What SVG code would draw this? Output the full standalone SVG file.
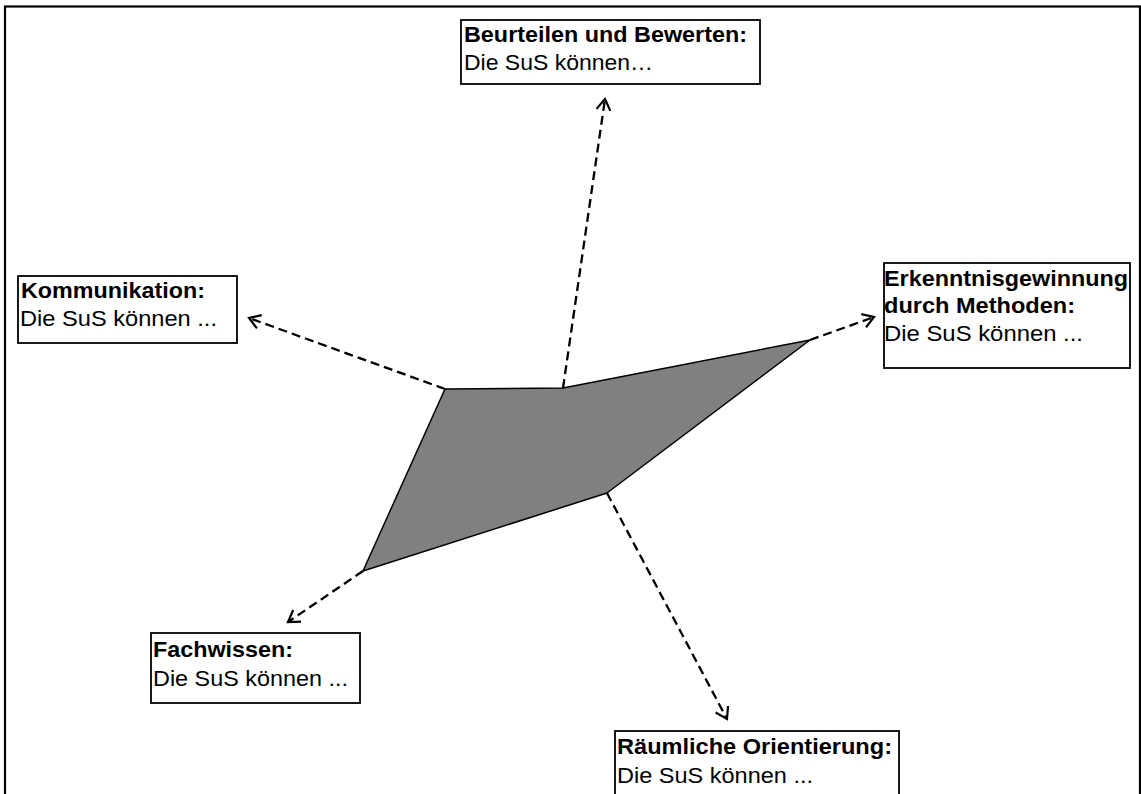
<svg xmlns="http://www.w3.org/2000/svg" width="1141" height="794" viewBox="0 0 1141 794">
<style>
.box{fill:#fff;stroke:#000;stroke-width:1.8}
.b{font-family:"Liberation Sans",Arial,sans-serif;font-weight:bold;font-size:22.5px;fill:#000}
.r{font-family:"Liberation Sans",Arial,sans-serif;font-size:22.5px;fill:#000}
.dash{fill:none;stroke:#000;stroke-width:2.3;stroke-dasharray:9 5;marker-end:url(#arr)}
</style>
<defs>
<marker id="arr" markerUnits="userSpaceOnUse" markerWidth="24" markerHeight="24" viewBox="-14 -12 16 24" refX="0" refY="0" orient="auto">
<path d="M-11,-7 L0,0 L-11,7" fill="none" stroke="#000" stroke-width="2.2"/>
</marker>
</defs>
<rect x="0" y="0" width="1141" height="794" fill="#fff"/>
<rect x="5" y="6.5" width="1135" height="800" fill="none" stroke="#000" stroke-width="2.2"/>
<g id="connectors">
<line class="dash" x1="563" y1="388" x2="605" y2="99"/>
<line class="dash" x1="445" y1="389" x2="249" y2="318"/>
<line class="dash" x1="810" y1="340" x2="874" y2="317"/>
<line class="dash" x1="363" y1="571" x2="288" y2="622"/>
<line class="dash" x1="607" y1="493" x2="727" y2="719"/>
</g>
<g id="profile">
<polygon points="445,389 563,388 810,340 607,493 363,571" fill="#808080" stroke="#000" stroke-width="1.5" stroke-linejoin="round"/>
</g>
<g id="beurteilen">
<rect class="box" x="461" y="20" width="299" height="64"/>
<text class="b" x="464" y="42" textLength="283" lengthAdjust="spacingAndGlyphs">Beurteilen und Bewerten:</text>
<text class="r" x="464" y="70" textLength="189" lengthAdjust="spacingAndGlyphs">Die SuS können…</text>
</g>
<g id="kommunikation">
<rect class="box" x="18" y="276" width="219" height="67"/>
<text class="b" x="21" y="297.5" textLength="184" lengthAdjust="spacingAndGlyphs">Kommunikation:</text>
<text class="r" x="20" y="325.5" textLength="197" lengthAdjust="spacingAndGlyphs">Die SuS können ...</text>
</g>
<g id="erkenntnis">
<rect class="box" x="884" y="263" width="246" height="105"/>
<text class="b" x="884" y="285.5" textLength="244" lengthAdjust="spacingAndGlyphs">Erkenntnisgewinnung</text>
<text class="b" x="884" y="312.5" textLength="191" lengthAdjust="spacingAndGlyphs">durch Methoden:</text>
<text class="r" x="884" y="340.5" textLength="199" lengthAdjust="spacingAndGlyphs">Die SuS können ...</text>
</g>
<g id="fachwissen">
<rect class="box" x="151" y="633" width="209" height="70"/>
<text class="b" x="153" y="656.5" textLength="140" lengthAdjust="spacingAndGlyphs">Fachwissen:</text>
<text class="r" x="153" y="685.5" textLength="195" lengthAdjust="spacingAndGlyphs">Die SuS können ...</text>
</g>
<g id="raeumliche">
<rect class="box" x="615" y="731" width="284" height="80"/>
<text class="b" x="617" y="753.5" textLength="275" lengthAdjust="spacingAndGlyphs">Räumliche Orientierung:</text>
<text class="r" x="617" y="782.5" textLength="196" lengthAdjust="spacingAndGlyphs">Die SuS können ...</text>
</g>
</svg>
